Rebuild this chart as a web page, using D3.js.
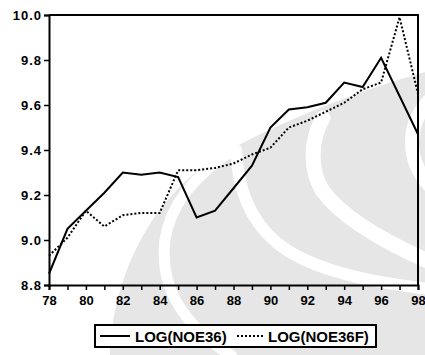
<!DOCTYPE html>
<html>
<head>
<meta charset="utf-8">
<script src="https://cdn.jsdelivr.net/npm/d3@7"></script>
<style>
  body { margin: 0; background: #fff; }
  svg { display: block; font-family: "Liberation Sans", Arial, sans-serif; }
</style>
</head>
<body>
<div id="chart"></div>
<script>
// years on the x axis (two-digit labels)
const years = [78, 79, 80, 81, 82, 83, 84, 85, 86, 87, 88, 89, 90, 91, 92, 93, 94, 95, 96, 97, 98];
// LOG(NOE36) - actual
const noe36 = [8.85, 9.05, 9.13, 9.21, 9.30, 9.29, 9.30, 9.28, 9.10, 9.13, 9.23, 9.33, 9.50, 9.58, 9.59, 9.61, 9.70, 9.68, 9.81, 9.64, 9.47];
// LOG(NOE36F) - fitted
const noe36f = [8.93, 9.01, 9.13, 9.06, 9.11, 9.12, 9.12, 9.31, 9.31, 9.32, 9.34, 9.38, 9.41, 9.50, 9.53, 9.57, 9.61, 9.67, 9.70, 9.99, 9.65];
const xTicks = [78, 80, 82, 84, 86, 88, 90, 92, 94, 96, 98];
const yTicks = [8.8, 9.0, 9.2, 9.4, 9.6, 9.8, 10.0];
const seriesNames = ["LOG(NOE36)", "LOG(NOE36F)"];

function drawChart() {
    const width = 425;
    const height = 355;
    const margin = {top: 15, right: 7, bottom: 70, left: 49};

    const svg = d3.select("#chart").append("svg")
        .attr("width", width)
        .attr("height", height);

    // faint scanned watermark behind the chart (decoration only)
    const wmColor = "#e6e6e6";
    const wm = svg.append("g").attr("class", "watermark");
    wm.append("path")
        .attr("d", "M110 355 C112 280 150 190 233 148 C290 118 360 90 425 72 L425 355 Z")
        .attr("fill", wmColor);
    const bands = [
        {d: "M233 150 C195 175 170 205 165 240 C160 280 175 320 232 356", w: 11},
        {d: "M236 150 C238 190 250 220 277 243 C305 265 350 280 430 289", w: 12},
        {d: "M323 118 C310 140 310 170 322 190 C340 215 380 240 430 262", w: 15},
        {d: "M430 100 C408 122 404 158 430 186", w: 14}
    ];
    wm.selectAll("path.band")
        .data(bands)
        .join("path")
        .attr("class", "band")
        .attr("d", d => d.d)
        .attr("fill", "none")
        .attr("stroke", "#fff")
        .attr("stroke-width", d => d.w)
        .attr("stroke-linecap", "round");

    const x = d3.scaleLinear()
        .domain([78, 98])
        .range([margin.left, width - margin.right]);
    const y = d3.scaleLinear()
        .domain([8.8, 10.0])
        .range([height - margin.bottom, margin.top]);

    // x axis: minor ticks every year, labels every two years
    const xAxis = svg.append("g")
        .attr("transform", `translate(0,${height - margin.bottom})`)
        .call(d3.axisBottom(x).tickValues(years).tickSize(5).tickFormat(d => xTicks.includes(d) ? d : ""));
    xAxis.select(".domain").attr("stroke-width", 2);
    xAxis.selectAll(".tick line").attr("stroke-width", 1.5);
    xAxis.selectAll("text")
        .attr("font-size", 13).attr("font-weight", "bold").attr("dy", "0.9em")
        .attr("font-family", "Liberation Sans, Arial, sans-serif");

    const yAxis = svg.append("g")
        .attr("transform", `translate(${margin.left},0)`)
        .call(d3.axisLeft(y).tickValues(yTicks).tickSize(5).tickFormat(d3.format(".1f")));
    yAxis.select(".domain").attr("stroke-width", 2);
    yAxis.selectAll(".tick line").attr("stroke-width", 1.5);
    yAxis.selectAll("text")
        .attr("font-size", 13).attr("font-weight", "bold").attr("x", -7)
        .attr("letter-spacing", 1)
        .attr("font-family", "Liberation Sans, Arial, sans-serif");

    // frame top and right
    svg.append("path")
        .attr("d", `M${x(78)},${y(10)}H${x(98)}V${y(8.8)}`)
        .attr("fill", "none").attr("stroke", "#000").attr("stroke-width", 2);

    const line = d3.line()
        .x((d, i) => x(years[i]))
        .y(d => y(d));

    svg.append("path")
        .datum(noe36)
        .attr("d", line)
        .attr("fill", "none").attr("stroke", "#000").attr("stroke-width", 2);

    svg.append("path")
        .datum(noe36f)
        .attr("d", line)
        .attr("fill", "none").attr("stroke", "#000").attr("stroke-width", 2)
        .attr("stroke-dasharray", "2,2");

    // legend
    const lg = svg.append("g").attr("transform", "translate(95,325)");
    lg.append("rect")
        .attr("width", 281).attr("height", 22)
        .attr("fill", "#fff").attr("stroke", "#000").attr("stroke-width", 2);
    lg.append("line").attr("x1", 5).attr("x2", 35).attr("y1", 11).attr("y2", 11)
        .attr("stroke", "#000").attr("stroke-width", 2);
    lg.append("text").attr("x", 40).attr("y", 16.5)
        .attr("font-size", 15).attr("font-weight", "bold").text(seriesNames[0]);
    lg.append("line").attr("x1", 142).attr("x2", 168).attr("y1", 11).attr("y2", 11)
        .attr("stroke", "#000").attr("stroke-width", 2).attr("stroke-dasharray", "2,2");
    lg.append("text").attr("x", 173).attr("y", 16.5)
        .attr("font-size", 15).attr("font-weight", "bold").text(seriesNames[1]);
}

drawChart();
</script>
</body>
</html>
